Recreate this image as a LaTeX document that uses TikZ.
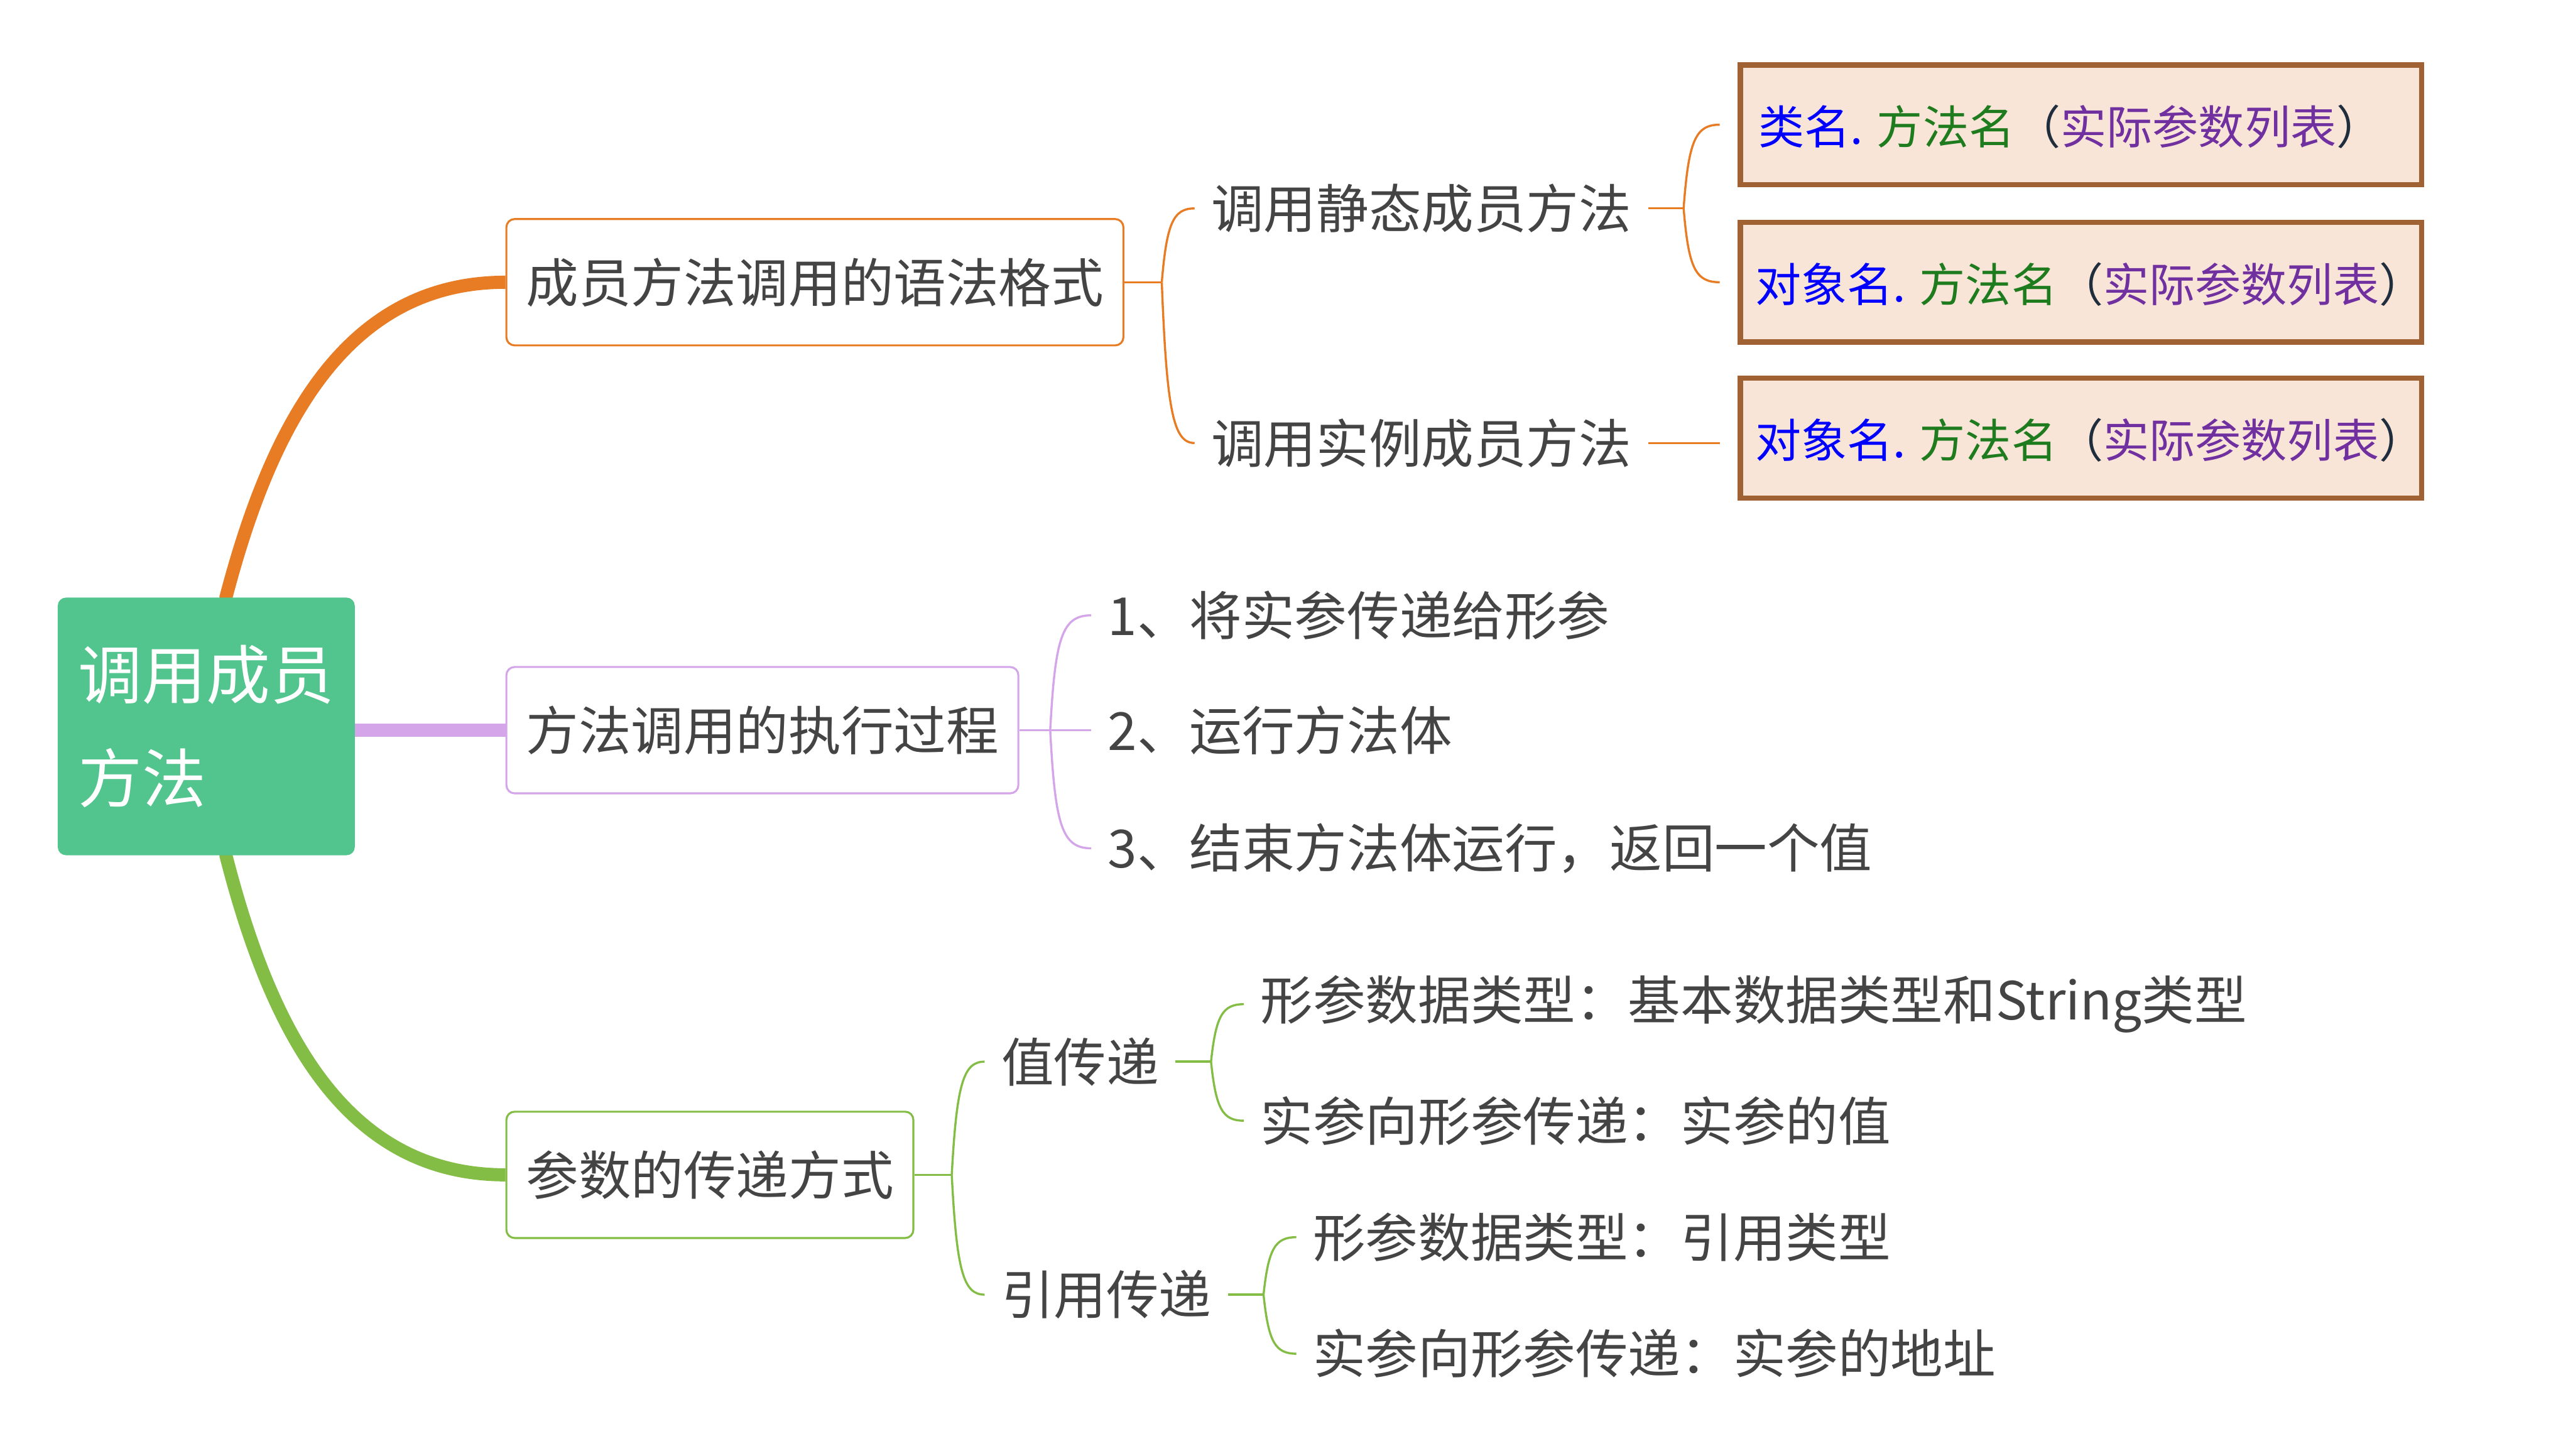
\documentclass[tikz,border=0pt]{standalone}
\usepackage{fontspec}
\setmainfont{Noto Sans CJK SC}
\usetikzlibrary{calc}
\pgfdeclarelayer{bg}
\pgfsetlayers{bg,main}
\definecolor{cOr}{HTML}{E87C25}
\definecolor{cPu}{HTML}{D4A5E8}
\definecolor{cGr}{HTML}{84BD45}
\definecolor{cRoot}{HTML}{52C48D}
\definecolor{cTxt}{HTML}{444444}
\definecolor{cBrn}{HTML}{A06232}
\definecolor{cBxF}{HTML}{F9E5D8}
\definecolor{cBlue}{HTML}{0000FF}
\definecolor{cDGr}{HTML}{1E7B1E}
\definecolor{cVio}{HTML}{7030A0}
\definecolor{cPar}{HTML}{1F2D3D}
\begin{document}
\begin{tikzpicture}[x=1pt,y=-1pt,
  thickbranch/.style={line width=8pt},
  thinbranch/.style={line width=1.3pt},
  rootbox/.style={fill=cRoot, rounded corners=5pt, anchor=north west, minimum width=181pt, minimum height=157pt, text=white, font=\fontsize{39pt}{63pt}\selectfont, align=left, text width=156pt, inner xsep=12.5pt},
  lvlone/.style={draw, line width=1.2pt, rounded corners=5pt, fill=white, anchor=west, inner xsep=12pt, minimum height=77pt, text=cTxt, font=\fontsize{32pt}{38pt}\selectfont},
  leaf/.style={anchor=west, inner xsep=10pt, inner ysep=3pt, text=cTxt, font=\fontsize{32pt}{38pt}\selectfont},
  codebox/.style={draw=cBrn, line width=3.3pt, fill=cBxF, anchor=west, minimum height=73pt, text height=24pt, text depth=6pt, inner xsep=9pt, font=\fontsize{28pt}{32pt}\selectfont},
  brc/.style={to path={.. controls ($(\tikztostart)!0.8!(\tikztostart|-\tikztotarget)+(3,0)$) and ($(\tikztostart|-\tikztotarget)+(7,0)$) .. (\tikztotarget)}}
]
\useasboundingbox (0,0) rectangle (1568,887);

% main nodes
\node[rootbox] (root) at (35,364) {调用成员\\方法};
\node[lvlone, draw=cOr] (b1) at (308,172) {成员方法调用的语法格式};
\node[lvlone, draw=cPu] (b2) at (308,445) {方法调用的执行过程};
\node[lvlone, draw=cGr] (b3) at (308,716) {参数的传递方式};

% branch 1
\node[leaf] (t11) at (728,127) {调用静态成员方法};
\node[leaf] (t12) at (728,270) {调用实例成员方法};
\node[codebox] (c1) at (1059,76) {\makebox[397pt][l]{\hspace{2pt}\raisebox{-3pt}{\color{cBlue}类名. \color{cDGr}方法名\color{cPar}（\color{cVio}实际参数列表\color{cPar}）}}};
\node[codebox] (c2) at (1059,172) {\makebox[397pt][l]{\raisebox{-3pt}{\color{cBlue}对象名. \color{cDGr}方法名\color{cPar}（\color{cVio}实际参数列表\color{cPar}）}}};
\node[codebox] (c3) at (1059,267) {\makebox[397pt][l]{\raisebox{-3pt}{\color{cBlue}对象名. \color{cDGr}方法名\color{cPar}（\color{cVio}实际参数列表\color{cPar}）}}};

% branch 2
\node[leaf] (t21) at (665,375) {1、将实参传递给形参};
\node[leaf] (t22) at (665,445) {2、运行方法体};
\node[leaf] (t23) at (665,517) {3、结束方法体运行，返回一个值};

% branch 3
\node[leaf] (t31) at (600,647) {值传递};
\node[leaf] (t32) at (600,789) {引用传递};
\node[leaf] (t311) at (758,612) {形参数据类型：基本数据类型和String类型};
\node[leaf] (t312) at (758,683) {实参向形参传递：实参的值};
\node[leaf] (t321) at (790,754) {形参数据类型：引用类型};
\node[leaf] (t322) at (790,825) {实参向形参传递：实参的地址};

% junctions
\coordinate (j1) at (708,172);
\coordinate (j11) at (1026,127);
\coordinate (e11) at (1048,76);
\coordinate (e12) at (1048,172);
\coordinate (e13) at (1048,270);
\coordinate (j2) at (640,445);
\coordinate (j3) at (580,716);
\coordinate (j31) at (738,647);
\coordinate (j32) at (770,789);

\begin{pgfonlayer}{bg}
\draw[thickbranch, cOr] ([xshift=12pt,yshift=-20pt]root.north) -- ([xshift=12pt]root.north) .. controls (165,260) and (210,172) .. (b1.west);
\draw[thickbranch, cPu] (root.east |- b2.west) -- (b2.west);
\draw[thickbranch, cGr] ([xshift=12pt,yshift=20pt]root.south) -- ([xshift=12pt]root.south) .. controls (165,628) and (210,716) .. (b3.west);

\draw[thinbranch, cOr] (b1.east) -- (j1);
\draw[thinbranch, cOr] (j1) to[brc] (t11.west);
\draw[thinbranch, cOr] (j1) to[brc] (t12.west);
\draw[thinbranch, cOr] (t11.east) -- (j11);
\draw[thinbranch, cOr] (j11) to[brc] (e11);
\draw[thinbranch, cOr] (j11) to[brc] (e12);
\draw[thinbranch, cOr] (t12.east) -- (e13);

\draw[thinbranch, cPu] (b2.east) -- (t22.west);
\draw[thinbranch, cPu] (j2) to[brc] (t21.west);
\draw[thinbranch, cPu] (j2) to[brc] (t23.west);

\draw[thinbranch, cGr] (b3.east) -- (j3);
\draw[thinbranch, cGr] (j3) to[brc] (t31.west);
\draw[thinbranch, cGr] (j3) to[brc] (t32.west);
\draw[thinbranch, cGr] (t31.east) -- (j31);
\draw[thinbranch, cGr] (j31) to[brc] (t311.west);
\draw[thinbranch, cGr] (j31) to[brc] (t312.west);
\draw[thinbranch, cGr] (t32.east) -- (j32);
\draw[thinbranch, cGr] (j32) to[brc] (t321.west);
\draw[thinbranch, cGr] (j32) to[brc] (t322.west);
\end{pgfonlayer}
\end{tikzpicture}
\end{document}
